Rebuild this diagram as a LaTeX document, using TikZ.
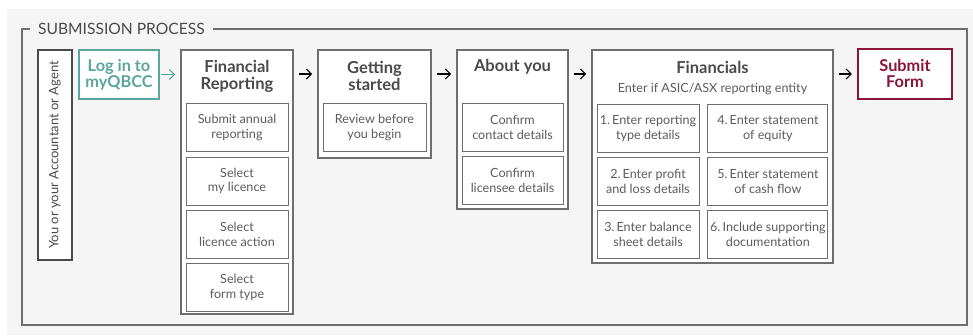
\documentclass[tikz,border=0pt]{standalone}
\usepackage{fontspec}
\setmainfont{Lato}
\usetikzlibrary{positioning,arrows.meta}
\definecolor{bggray}{HTML}{F5F5F5}
\definecolor{linegray}{HTML}{6E6E6E}
\definecolor{textgray}{HTML}{4A4A4A}
\definecolor{subgray}{HTML}{5C5C5C}
\definecolor{qbccteal}{HTML}{5BA799}
\definecolor{qbccred}{HTML}{8A1538}
\begin{document}
\begin{tikzpicture}
	[x=1pt,y=-1pt,
		stepbox/.style={draw=linegray,line width=1.6pt,fill=white,inner sep=0pt},
		subbox/.style={draw=linegray,line width=0.9pt,fill=white,inner sep=0pt,minimum width=102pt,minimum height=48pt,align=center,text=subgray,font=\fontsize{12.6}{14.5}\selectfont},
		steptitle/.style={align=center,text=textgray,inner sep=0pt,font=\fontsize{16.5}{17}\selectfont\bfseries},
		steparrow/.style={-{Straight Barb[length=5pt,width=10pt]},black,line width=1.1pt,shorten <=5pt,shorten >=5pt}]
	\useasboundingbox (0,0) rectangle (973,335);
	\fill[bggray] (7,9) rectangle (973,335);
	% frame and its heading
	\draw[linegray,line width=1.3pt] (22,29) rectangle (967,325);
	\node[anchor=west,fill=bggray,inner xsep=8pt,inner ysep=2pt,text=textgray,font=\fontsize{15.6}{17}\selectfont] (proc) at (30,29) {SUBMISSION PROCESS};
	% who and login
	\node[draw=textgray,line width=1.5pt,fill=white,rotate=90,minimum width=210pt,minimum height=34pt,inner sep=0pt,text=textgray,font=\fontsize{13}{14}\selectfont] (agent) at (55,155) {You or your Accountant or Agent};
	\node[draw=qbccteal,line width=2.4pt,fill=white,minimum width=80pt,minimum height=49pt,inner sep=0pt,align=center,text=qbccteal,font=\fontsize{16.3}{16}\selectfont\bfseries] (login) at (119,74.5) {Log in to\\myQBCC};
	% the steps
	\node[stepbox,minimum width=112pt,minimum height=264pt] (finrep) at (237,182) {};
	\node[stepbox,minimum width=113pt,minimum height=108pt] (getting) at (374.5,104) {};
	\node[stepbox,minimum width=111pt,minimum height=159pt] (about) at (512.5,129.5) {};
	\node[stepbox,minimum width=241pt,minimum height=213pt] (financials) at (712.5,156.5) {};
	\node[draw=qbccred,line width=2.4pt,fill=white,minimum width=94pt,minimum height=50pt,inner sep=0pt,align=center,text=qbccred,font=\fontsize{16.3}{16}\selectfont\bfseries] (submit) at (905,74) {Submit\\Form};
	\node[steptitle] (finrep-t) at (237,76) {Financial\\Reporting};
	\node[steptitle] (getting-t) at (374.5,75.5) {Getting\\started};
	\node[steptitle] (about-t) at (512.5,67) {About you};
	\node[steptitle] (financials-t) at (712.5,67) {Financials};
	\node[text=subgray,font=\fontsize{12.6}{14}\selectfont] (financials-s) at (712.5,89) {Enter if ASIC/ASX reporting entity};
	% financial reporting
	\node[subbox,below=54pt of finrep.north] (fr1) {Submit annual\\reporting};
	\node[subbox,below=4.4pt of fr1] (fr2) {Select\\my licence};
	\node[subbox,below=4.4pt of fr2] (fr3) {Select\\licence action};
	\node[subbox,below=4.4pt of fr3] (fr4) {Select\\form type};
	% getting started
	\node[subbox,minimum width=103pt,below=54pt of getting.north] (gs1) {Review before\\you begin};
	% about you
	\node[subbox,minimum width=101pt,below=54pt of about.north] (ay1) {Confirm\\contact details};
	\node[subbox,minimum width=101pt,below=4pt of ay1] (ay2) {Confirm\\licensee details};
	% financials
	\node[subbox,anchor=north] (fi1) at (648,104) {1.\,Enter reporting\\type details};
	\node[subbox,below=4pt of fi1] (fi2) {2.\,Enter profit\\and loss details};
	\node[subbox,below=4pt of fi2] (fi3) {3.\,Enter balance\\sheet details};
	\node[subbox,minimum width=120pt,right=8pt of fi1] (fi4) {4.\,Enter statement\\of equity};
	\node[subbox,minimum width=120pt,right=8pt of fi2] (fi5) {5.\,Enter statement\\of cash flow};
	\node[subbox,minimum width=120pt,right=8pt of fi3] (fi6) {6.\,Include supporting\\documentation};
	% arrows
	\draw[steparrow,qbccteal,shorten <=1pt] (login) -- (finrep.west |- login);
	\draw[steparrow] (finrep.east |- submit) -- (getting.west |- submit);
	\draw[steparrow] (getting.east |- submit) -- (about.west |- submit);
	\draw[steparrow] (about.east |- submit) -- (financials.west |- submit);
	\draw[steparrow] (financials.east |- submit) -- (submit);
\end{tikzpicture}
\end{document}
